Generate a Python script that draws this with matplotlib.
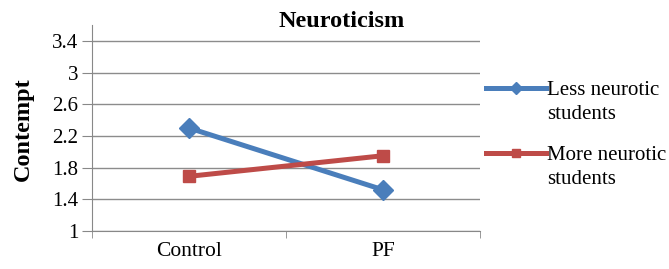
import matplotlib.pyplot as plt
from matplotlib.legend_handler import HandlerLine2D

# data
groups = ["Control", "PF"]
less_neurotic = [2.30, 1.52]
more_neurotic = [1.69, 1.95]
yticks = [1, 1.4, 1.8, 2.2, 2.6, 3, 3.4]
ytick_labels = ["1", "1.4", "1.8", "2.2", "2.6", "3", "3.4"]

plt.rcParams['font.family'] = ['Liberation Serif', 'DejaVu Serif']


# legend handle sits on the first line of a two-line label
class TopLineHandler(HandlerLine2D):
    def create_artists(self, legend, orig_handle, xdescent, ydescent,
                       width, height, fontsize, trans):
        arts = super().create_artists(legend, orig_handle, xdescent, ydescent,
                                      width, height, fontsize, trans)
        for a in arts:
            a.set_ydata([y + fontsize * 0.68 for y in a.get_ydata()])
        return arts


fig = plt.figure(figsize=(6.69, 2.69), dpi=100)
ax = fig.add_axes([92/669, 38/269, 388/669, 206/269])

x = range(len(groups))
ax.plot(x, less_neurotic, color='#4A7EBB', lw=3.6, marker='D', ms=10,
        label='Less neurotic\nstudents', zorder=3)
ax.plot(x, more_neurotic, color='#BE4B48', lw=3.6, marker='s', ms=9,
        label='More neurotic\nstudents', zorder=3)

ax.set_xlim(-0.5, 1.5)
ax.set_ylim(1, 3.6)
ax.set_yticks(yticks)
ax.set_yticklabels(ytick_labels)
ax.set_xticks(list(x))
ax.set_xticklabels(groups)
ax.set_xticks([-0.5, 0.5, 1.5], minor=True)
ax.tick_params(axis='x', which='major', length=0, pad=8, labelsize=15.5)
ax.tick_params(axis='x', which='minor', length=5, color='#888888')
ax.tick_params(axis='y', length=7, color='#888888', labelsize=15, pad=3)

ax.yaxis.grid(True, color='#8c8c8c', lw=1)
ax.set_axisbelow(True)
for s in ['top', 'right']:
    ax.spines[s].set_visible(False)
for s in ['left', 'bottom']:
    ax.spines[s].set_color('#888888')

ax.set_ylabel('Contempt', fontsize=17.5, fontweight='bold')
ax.yaxis.set_label_coords(-0.15, 0.495)
fig.text(0.51, 0.92, 'Neuroticism', ha='center', va='center',
         fontsize=17.5, fontweight='bold')

leg = fig.legend(loc='center left', bbox_to_anchor=(486/669, 0.497), frameon=False,
                 fontsize=15, handlelength=2.9, handletextpad=0.05, labelspacing=1.04,
                 borderaxespad=0, borderpad=0, markerscale=0.65,
                 handler_map={plt.Line2D: TopLineHandler()})
for t in leg.get_texts():
    t.set_linespacing(1.37)

fig.savefig('out.png', dpi=100)
